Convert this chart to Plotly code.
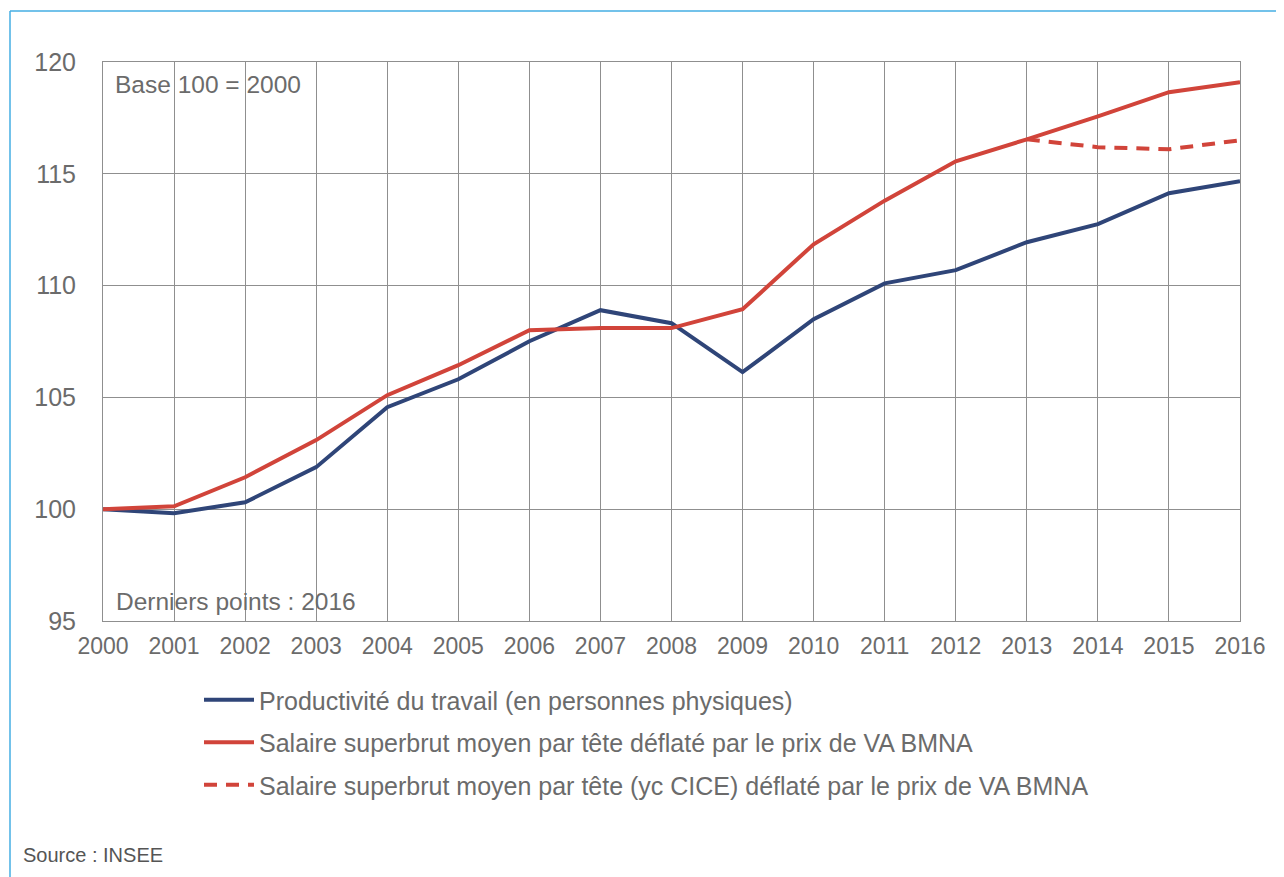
import plotly.graph_objects as go

years = list(range(2000, 2017))
productivite = [100.0, 99.82, 100.31, 101.88, 104.56, 105.81, 107.51, 108.9, 108.32,
                106.13, 108.5, 110.1, 110.69, 111.94, 112.75, 114.13, 114.67]
salaire = [100.0, 100.13, 101.43, 103.09, 105.1, 106.44, 108.0, 108.1, 108.1,
           108.94, 111.85, 113.8, 115.56, 116.54, 117.57, 118.65, 119.1]
cice_years = [2013, 2014, 2015, 2016]
salaire_cice = [116.54, 116.19, 116.1, 116.5]
y_ticks = [95, 100, 105, 110, 115, 120]

names = [
    "Productivité du travail (en personnes physiques)",
    "Salaire superbrut moyen par tête déflaté par le prix de VA BMNA",
    "Salaire superbrut moyen par tête (yc CICE) déflaté par le prix de VA BMNA",
]

# page offset (body margin) compensation
OFF = 8
W, H = 1284 - OFF, 877 - OFF
# plot area in page pixels
P_L, P_R, P_T, P_B = 103, 1240, 62, 621
ML = P_L - OFF
MT = P_T - OFF
MR = W - (P_R - OFF)
MB = H - (P_B - OFF)
PW, PH = W - ML - MR, H - MT - MB

def px(x):
    return (x - OFF - ML) / PW

def py(y):
    return (H - MB - (y - OFF)) / PH

BLUE = "#2f4578"
RED = "#d1443a"
TXT = "#6b6b6b"
GRID = "#8f8f8f"
FONT = "Liberation Sans, Arial, Helvetica, sans-serif"

fig = go.Figure()
fig.add_trace(go.Scatter(x=years, y=productivite, mode="lines", name=names[0],
                         line=dict(color=BLUE, width=4), legendgroup="a"))
fig.add_trace(go.Scatter(x=years, y=salaire, mode="lines", name=names[1],
                         line=dict(color=RED, width=4), legendgroup="b"))
fig.add_trace(go.Scatter(x=cice_years, y=salaire_cice, mode="lines", name=names[2],
                         line=dict(color=RED, width=4, dash="13px,9px"), legendgroup="c"))

fig.update_layout(
    width=W, height=H,
    margin=dict(l=ML, r=MR, t=MT, b=MB),
    paper_bgcolor="white", plot_bgcolor="white",
    font=dict(family=FONT, color=TXT),
    showlegend=True,
    legend=dict(x=px(199), y=py(677), xanchor="left", yanchor="top",
                font=dict(size=25, color=TXT), traceorder="grouped",
                tracegroupgap=7, bgcolor="rgba(0,0,0,0)", itemwidth=50),
    xaxis=dict(range=[2000, 2016], tickmode="array", tickvals=years,
               ticktext=[str(y) for y in years], showgrid=True,
               gridcolor=GRID, gridwidth=1, zeroline=False,
               showline=True, linecolor=GRID, linewidth=1, mirror=True,
               ticks="outside", ticklen=4, tickcolor="rgba(0,0,0,0)",
               tickfont=dict(size=23, color=TXT)),
    yaxis=dict(range=[95, 120], tickmode="array", tickvals=y_ticks,
               showgrid=True, gridcolor=GRID, gridwidth=1, zeroline=False,
               showline=True, linecolor=GRID, linewidth=1, mirror=True,
               ticks="outside", ticklen=21, tickcolor="rgba(0,0,0,0)",
               tickfont=dict(size=25, color=TXT)),
)

fig.add_annotation(text="Base 100 = 2000", xref="paper", yref="paper",
                   x=px(113), y=py(84), xanchor="left", yanchor="middle",
                   showarrow=False, font=dict(size=24.5, color=TXT),
                   bgcolor="rgba(0,0,0,0)")
fig.add_annotation(text="Derniers points : 2016", xref="paper", yref="paper",
                   x=px(114), y=py(601), xanchor="left", yanchor="middle",
                   showarrow=False, font=dict(size=24.5, color=TXT))
fig.add_annotation(text="Source : INSEE", xref="paper", yref="paper",
                   x=px(21), y=py(855), xanchor="left", yanchor="middle",
                   showarrow=False, font=dict(size=20, color="#555555"))

# outer frame (top and left edges)
fig.add_shape(type="line", xref="paper", yref="paper",
              x0=px(10), x1=px(1290), y0=py(11), y1=py(11),
              line=dict(color="#45aee3", width=1.5))
fig.add_shape(type="line", xref="paper", yref="paper",
              x0=px(10), x1=px(10), y0=py(11), y1=py(890),
              line=dict(color="#45aee3", width=1.5))

fig.write_html("out.html")
